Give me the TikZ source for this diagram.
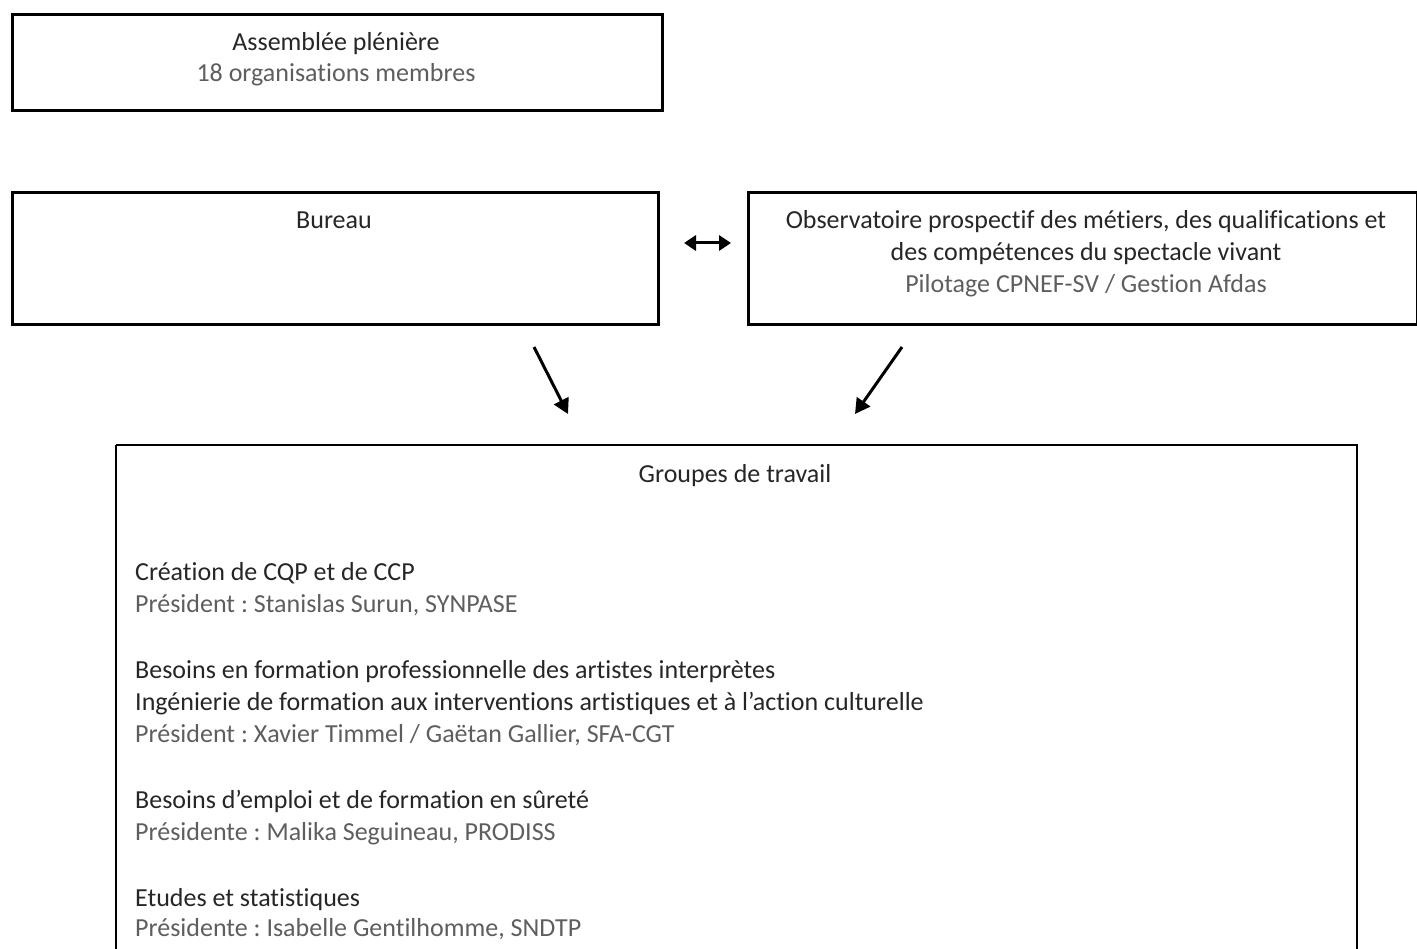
\documentclass[tikz,border=0pt]{standalone}
\usepackage{fontspec}
\setmainfont{Carlito}[Ligatures=NoCommon]
\frenchspacing
\usetikzlibrary{arrows.meta}
\definecolor{titlec}{HTML}{262626}
\definecolor{subc}{HTML}{5E5E5E}
\tikzset{
  box/.style={draw=black, line width=2.6pt, minimum width=#1, inner sep=0pt, anchor=north west},
  ttl/.style={text=titlec, font=\fontsize{26}{30}\selectfont, inner sep=0pt, text height=19pt, text depth=6pt},
  sub/.style={text=subc, font=\fontsize{26}{30}\selectfont, inner sep=0pt, text height=19pt, text depth=6pt},
  arr/.style={line width=3pt, -{Triangle[length=15pt,width=16pt]}},
  darr/.style={line width=3pt, {Triangle[length=12pt,width=15pt]}-{Triangle[length=12pt,width=15pt]}}
}
\begin{document}
\begin{tikzpicture}[x=1pt,y=-1pt]
\useasboundingbox (0,0) rectangle (1417,949);
% boxes
\node[box=650pt, minimum height=96pt] (ap) at (11,13) {};
\node[box=646pt, minimum height=132pt] (bu) at (11,191) {};
\node[box=669pt, minimum height=132pt] (ob) at (747,191) {};
\draw[line width=2.6pt] (116,445) -- (1357,445) -- (1357,970) (116,445) -- (116,970);
\node[box=1241pt, minimum height=520pt, draw=none] (gt) at (116,445) {};
% Assemblee
\node[ttl] (t1) at (336,44) {Assemblée plénière};
\node[sub] (t2) at (336,75) {18 organisations membres};
% Bureau
\node[ttl] (t3) at (334,222) {Bureau};
% Observatoire
\node[ttl] (t4) at (1086,222) {Observatoire prospectif des métiers, des qualifications et};
\node[ttl] (t5) at (1086,254) {des compétences du spectacle vivant};
\node[sub] (t6) at (1086,286) {Pilotage CPNEF-SV / Gestion Afdas};
% arrows
\coordinate (dl) at (684,243);
\coordinate (dr) at (731,243);
\draw[darr] (dl) -- (dr);
\coordinate (a1s) at (534,347);
\coordinate (a1e) at (568,414);
\draw[arr] (a1s) -- (a1e);
\coordinate (a2s) at (902,347);
\coordinate (a2e) at (855,414);
\draw[arr] (a2s) -- (a2e);
% Groupes
\node[ttl] (g0) at (735,476) {Groupes de travail};
\node[ttl, anchor=west] (g1) at (135,574) {Création de CQP et de CCP};
\node[sub, anchor=west] (g2) at (135,606) {Président : Stanislas Surun, SYNPASE};
\node[ttl, anchor=west] (g3) at (135,672) {Besoins en formation professionnelle des artistes interprètes};
\node[ttl, anchor=west] (g4) at (135,704) {Ingénierie de formation aux interventions artistiques et à l’action culturelle};
\node[sub, anchor=west] (g5) at (135,736) {Président : Xavier Timmel / Gaëtan Gallier, SFA-CGT};
\node[ttl, anchor=west] (g6) at (135,802) {Besoins d’emploi et de formation en sûreté};
\node[sub, anchor=west] (g7) at (135,834) {Présidente : Malika Seguineau, PRODISS};
\node[ttl, anchor=west] (g8) at (135,900) {Etudes et statistiques};
\node[sub, anchor=west] (g9) at (135,930) {Présidente : Isabelle Gentilhomme, SNDTP};
\end{tikzpicture}
\end{document}
